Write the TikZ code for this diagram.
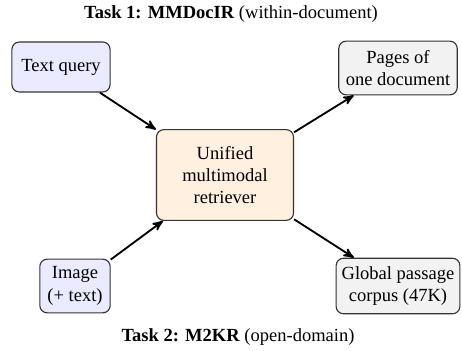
\documentclass[tikz,border=0pt]{standalone}
\usepackage{fontspec}
\setmainfont{Liberation Serif}
\usetikzlibrary{positioning, arrows}
\tikzset{
>=stealth', % bold arrow heads
box/.style={draw=black!80, line width=0.6pt, rounded corners=4pt, align=center, inner sep=3pt}, % every box
query/.style={box, fill=blue!8}, % inputs
corpus/.style={box, fill=gray!10}, % search spaces
model/.style={box, fill=orange!12}, % the retriever
link/.style={->, line width=1pt}, % connectors
}

\begin{document}
\begin{tikzpicture}[x=0.54pt, y=-0.54pt]
            \useasboundingbox (0,0) rectangle (462,350);
            \node (title1) at (231,14) {\textbf{Task 1: MMDocIR} (within-document)};
            \node[model, minimum width=74pt, minimum height=49pt] (retriever) at (225,175) {Unified\\multimodal\\retriever};
            \node[query, minimum width=53pt, minimum height=27pt] (text) at (61,67) {Text query};
            \node[corpus, minimum width=64pt, minimum height=29pt] (pages) at (398,68) {Pages of\\one document};
            \node[query, minimum width=38pt, minimum height=29pt] (image) at (75,286) {Image\\(+ text)};
            \node[corpus, minimum width=65pt, minimum height=30pt] (passages) at (398,286) {Global passage\\corpus (47K)};
            \node (title2) at (238,337) {\textbf{Task 2: M2KR} (open-domain)};
            \draw[link]
                (text) edge (retriever)
                (image) edge (retriever)
                (retriever) edge (pages)
                (retriever) edge (passages)
                ;
            \end{tikzpicture}
\end{document}
